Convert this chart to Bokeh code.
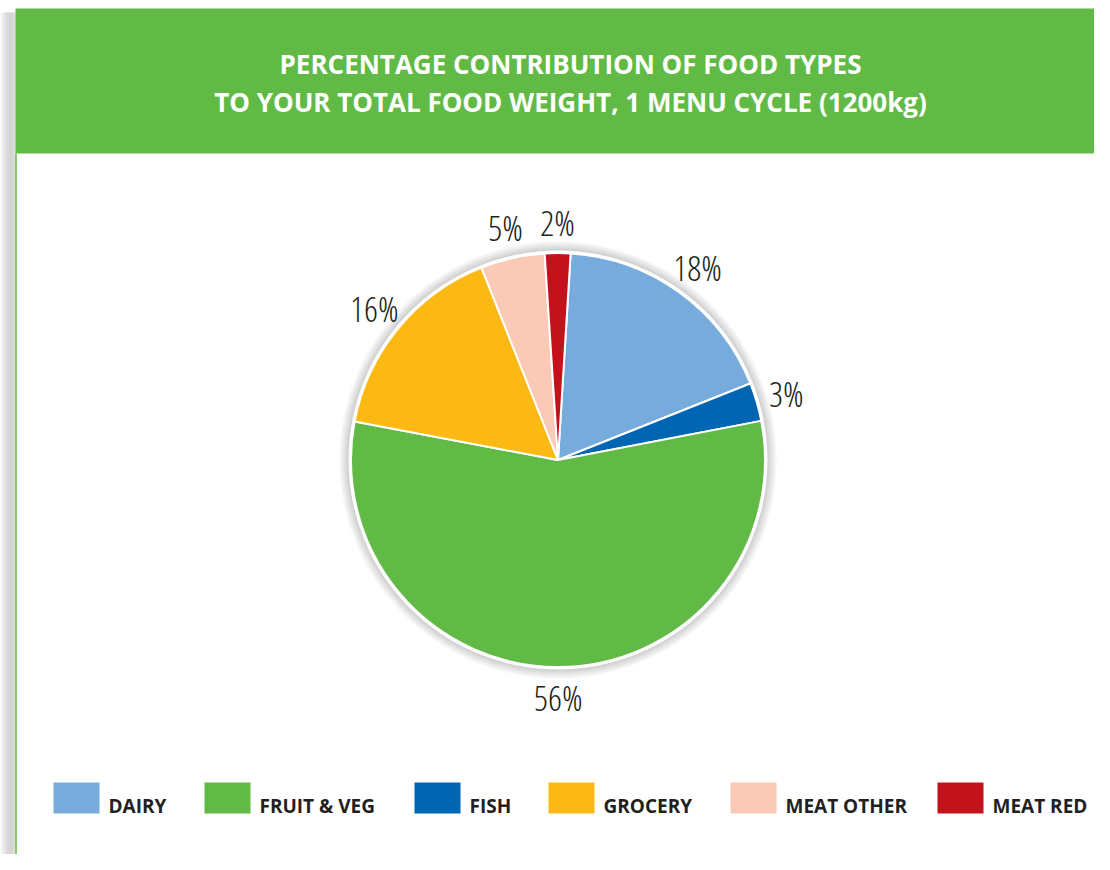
import numpy as np
from bokeh.plotting import figure
from bokeh.models import Range1d, ColumnDataSource
from bokeh.core.properties import value
from bokeh.embed import file_html
from bokeh.resources import INLINE

# ---------------- data ----------------
title_lines = ["PERCENTAGE CONTRIBUTION OF FOOD TYPES",
               "TO YOUR TOTAL FOOD WEIGHT, 1 MENU CYCLE (1200kg)"]
slice_labels = ["DAIRY", "FISH", "FRUIT & VEG", "GROCERY", "MEAT OTHER", "MEAT RED"]  # clockwise order
slice_values = [18, 3, 56, 16, 5, 2]
legend_labels = ["DAIRY", "FRUIT & VEG", "FISH", "GROCERY", "MEAT OTHER", "MEAT RED"]
colors = {
    "DAIRY": "#76ABDC",
    "FRUIT & VEG": "#62BA46",
    "FISH": "#0066B3",
    "GROCERY": "#FDB913",
    "MEAT OTHER": "#FBCAB6",
    "MEAT RED": "#C4121C",
}

# ---------------- layout ----------------
W, H = 1094, 854
def Y(sy):
    return H - sy

GREEN = "#62BA46"
TXT = "#231F20"
TITLE_FONT = value("Open Sans")
LABEL_FONT = value("Open Sans Condensed Light")

p = figure(width=W, height=H, x_range=Range1d(0, W), y_range=Range1d(0, H),
           output_backend="svg", toolbar_location=None, min_border=0,
           outline_line_color=None, background_fill_color="white",
           border_fill_color="white")
p.axis.visible = False
p.grid.visible = False

# page shadow on left
shade = ["#f4f4f4", "#eeeeee", "#e8e8e8", "#e2e2e2", "#dcdcdc", "#d6d6d6", "#d0d0d0",
         "#cccccc", "#c9c9c9", "#c7c7c7", "#c6c6c6", "#c7c7c7", "#cacaca", "#cfcfcf", "#d6d6d6"]
for i, c in enumerate(shade):
    p.quad(left=i, right=i + 1, top=Y(12), bottom=Y(H), fill_color=c, line_color=None)

# header band
p.quad(left=15, right=W + 2, top=Y(8), bottom=Y(153), fill_color=GREEN, line_color=None)
# green left rule of the panel
p.segment(x0=[15.5], y0=[Y(153)], x1=[15.5], y1=[Y(H)], line_color=GREEN, line_width=1.5)

# title
p.text(x=[570, 570], y=[Y(63.5), Y(101.5)], text=title_lines, text_align="center",
       text_baseline="middle", text_color="white", text_font=TITLE_FONT,
       text_font_size="26px", text_font_style="bold")

# ---------------- pie ----------------
cx, cy, R = 557.5, Y(459.5), 207
start_deg = 86.5
vals = np.array(slice_values, dtype=float)
frac = vals / vals.sum()
cum = np.concatenate([[0], np.cumsum(frac)])
starts = np.deg2rad(start_deg) - cum[:-1] * 2 * np.pi
ends = np.deg2rad(start_deg) - cum[1:] * 2 * np.pi
mids = (starts + ends) / 2

# soft glow around the pie
for k in range(11):
    p.circle(x=[cx], y=[cy], radius=R + 12 - k, fill_color="#000000",
             fill_alpha=0.02, line_color=None)
p.circle(x=[cx], y=[cy], radius=R + 2.5, fill_color="white", line_color=None)

src = ColumnDataSource(dict(start=starts, end=ends,
                            color=[colors[s] for s in slice_labels]))
p.wedge(x=cx, y=cy, radius=R, start_angle="start", end_angle="end", direction="clock",
        fill_color="color", line_color="white", line_width=2, source=src)

# percentage labels
lr = 238
lab_x = cx + lr * np.cos(mids)
lab_y = cy + lr * np.sin(mids)
p.text(x=lab_x, y=lab_y, text=[f"{int(v)}%" for v in slice_values],
       text_align="center", text_baseline="middle", text_color=TXT,
       text_font=LABEL_FONT, text_font_size="35px")

# ---------------- legend ----------------
sw_left = [53, 204, 414, 548, 730, 937]
sw_w, sw_top, sw_bot = 46, 782, 813
p.quad(left=sw_left, right=[l + sw_w for l in sw_left], top=Y(sw_top), bottom=Y(sw_bot),
       fill_color=[colors[c] for c in legend_labels], line_color=None)
p.text(x=[l + sw_w + 9 for l in sw_left], y=Y(805), text=legend_labels,
       text_align="left", text_baseline="middle", text_color=TXT,
       text_font=TITLE_FONT, text_font_size="19px", text_font_style="bold")

open("out.html", "w").write(file_html(p, INLINE))
